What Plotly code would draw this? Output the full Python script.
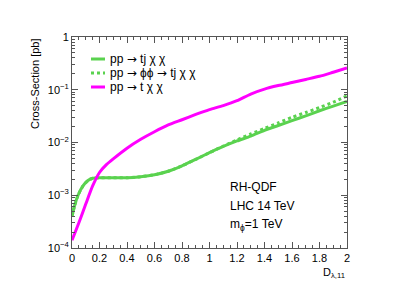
import plotly.graph_objects as go

# ---- data ----
d_magenta = [0.0, 0.05, 0.1, 0.15, 0.2, 0.25, 0.3, 0.4, 0.5, 0.6, 0.7, 0.8, 0.9, 1.0,
             1.1, 1.2, 1.3, 1.4, 1.5, 1.6, 1.7, 1.8, 1.9, 2.0]
xs_t_chichi = [1.4e-4, 3.0e-4, 6.8e-4, 1.5e-3, 2.7e-3, 3.8e-3, 4.9e-3, 7.8e-3, 1.15e-2, 1.6e-2,
               2.15e-2, 2.7e-2, 3.4e-2, 4.2e-2, 5.0e-2, 6.2e-2, 8.3e-2, 1.03e-1, 1.20e-1,
               1.37e-1, 1.57e-1, 1.80e-1, 2.15e-1, 2.58e-1]

d_green = [0.0, 0.02, 0.044, 0.08, 0.116, 0.15, 0.2, 0.3, 0.4, 0.5, 0.6, 0.7, 0.8, 0.9, 1.0,
           1.1, 1.2, 1.3, 1.4, 1.5, 1.6, 1.7, 1.8, 1.9, 2.0]
xs_tj_chichi = [4.0e-4, 6.5e-4, 1.0e-3, 1.5e-3, 1.9e-3, 2.1e-3, 2.15e-3, 2.15e-3, 2.15e-3,
                2.25e-3, 2.45e-3, 2.85e-3, 3.6e-3, 4.8e-3, 6.4e-3, 8.4e-3, 1.07e-2, 1.32e-2,
                1.7e-2, 2.1e-2, 2.6e-2, 3.2e-2, 4.0e-2, 4.9e-2, 6.0e-2]
xs_phiphi_tj_chichi = [4.0e-4, 6.5e-4, 1.0e-3, 1.5e-3, 1.9e-3, 2.1e-3, 2.15e-3, 2.15e-3, 2.15e-3,
                       2.25e-3, 2.45e-3, 2.85e-3, 3.6e-3, 4.8e-3, 6.4e-3, 8.5e-3, 1.12e-2, 1.45e-2,
                       1.85e-2, 2.35e-2, 3.0e-2, 3.7e-2, 4.6e-2, 5.8e-2, 7.7e-2]

ARW = "<span style='font-family:DejaVu Sans'>→</span>"
legend_labels = ["pp " + ARW + " tj χ χ", "pp " + ARW + " ϕϕ " + ARW + " tj χ χ",
                 "pp " + ARW + " t χ χ"]

y_tickvals = [1e-4, 1e-3, 1e-2, 1e-1, 1]
y_ticktext = ["10<sup>−4</sup>", "10<sup>−3</sup>", "10<sup>−2</sup>", "10<sup>−1</sup>", "1"]
x_tickvals = [0, 0.2, 0.4, 0.6, 0.8, 1, 1.2, 1.4, 1.6, 1.8, 2]
x_ticktext = ["0", "0.2", "0.4", "0.6", "0.8", "1", "1.2", "1.4", "1.6", "1.8", "2"]

GREEN = "#5ad24f"
MAGENTA = "#ff00ff"
AX = "#555555"
FONT = "Liberation Sans, Arial, sans-serif"

# plot-area geometry (pixels) used to place decorations in paper coords
L, R, T, B = 64, 339, 29, 240
def px(xp):
    return (xp - L) / (R - L)
def py(yp):
    return (B - yp) / (B - T)

fig = go.Figure()
styles = [dict(color=GREEN, width=3, shape="spline", smoothing=0.6),
          dict(color=GREEN, width=3, dash="dot", shape="spline", smoothing=0.6),
          dict(color=MAGENTA, width=3, shape="spline", smoothing=0.6)]
fig.add_trace(go.Scatter(x=d_green, y=xs_tj_chichi, mode="lines", line=styles[0],
                         name="pp → tj χ χ", showlegend=False))
fig.add_trace(go.Scatter(x=d_green, y=xs_phiphi_tj_chichi, mode="lines", line=styles[1],
                         name="pp → ϕϕ → tj χ χ", showlegend=False))
fig.add_trace(go.Scatter(x=d_magenta, y=xs_t_chichi, mode="lines", line=styles[2],
                         name="pp → t χ χ", showlegend=False))

fig.update_layout(
    width=399, height=286,
    margin=dict(l=L, r=399 - R, t=T, b=286 - B),
    paper_bgcolor="white", plot_bgcolor="white",
    font=dict(family=FONT, size=11, color="black"),
    showlegend=False,
    xaxis=dict(range=[0, 2], tickvals=x_tickvals, ticktext=x_ticktext,
               ticks="inside", ticklen=6, tickcolor=AX, showline=True, linecolor=AX,
               linewidth=1, mirror="ticks", showgrid=False, zeroline=False,
               tickfont=dict(size=11),
               minor=dict(dtick=0.05, ticks="inside", ticklen=3, tickcolor=AX, showgrid=False)),
    yaxis=dict(type="log", range=[-4, 0], tickvals=y_tickvals, ticktext=y_ticktext,
               ticks="inside", ticklen=6, tickcolor=AX, showline=True, linecolor=AX,
               linewidth=1, mirror="ticks", showgrid=False, zeroline=False,
               tickfont=dict(size=11),
               minor=dict(dtick="D1", ticks="inside", ticklen=3, tickcolor=AX, showgrid=False)),
)

# custom legend (ROOT-style, compact)
for lab, st, yy in zip(legend_labels, styles, [51, 65, 79]):
    fig.add_shape(type="line", xref="paper", yref="paper", x0=px(83), x1=px(97),
                  y0=py(yy), y1=py(yy),
                  line=dict(color=st["color"], width=3, dash=st.get("dash", "solid")))
    fig.add_annotation(text=lab, xref="paper", yref="paper", x=px(100), y=py(yy),
                       xanchor="left", yanchor="middle", showarrow=False,
                       font=dict(size=12))

fig.add_annotation(text="D<sub>λ,11</sub>", xref="paper", yref="paper", x=1.0, y=py(256),
                   xanchor="right", yanchor="top", showarrow=False, font=dict(size=11))
fig.add_annotation(text="Cross-Section [pb]", xref="paper", yref="paper", x=px(27), y=1.0,
                   xanchor="center", yanchor="top", textangle=-90, showarrow=False,
                   font=dict(size=11))
for txt, yy in [("RH-QDF", 179), ("LHC 14 TeV", 198), ("m<sub>ϕ</sub>=1 TeV", 217)]:
    fig.add_annotation(text=txt, xref="paper", yref="paper", x=px(220),
                       y=py(yy), xanchor="left", yanchor="middle",
                       showarrow=False, font=dict(size=12))

fig.write_html("out.html")
